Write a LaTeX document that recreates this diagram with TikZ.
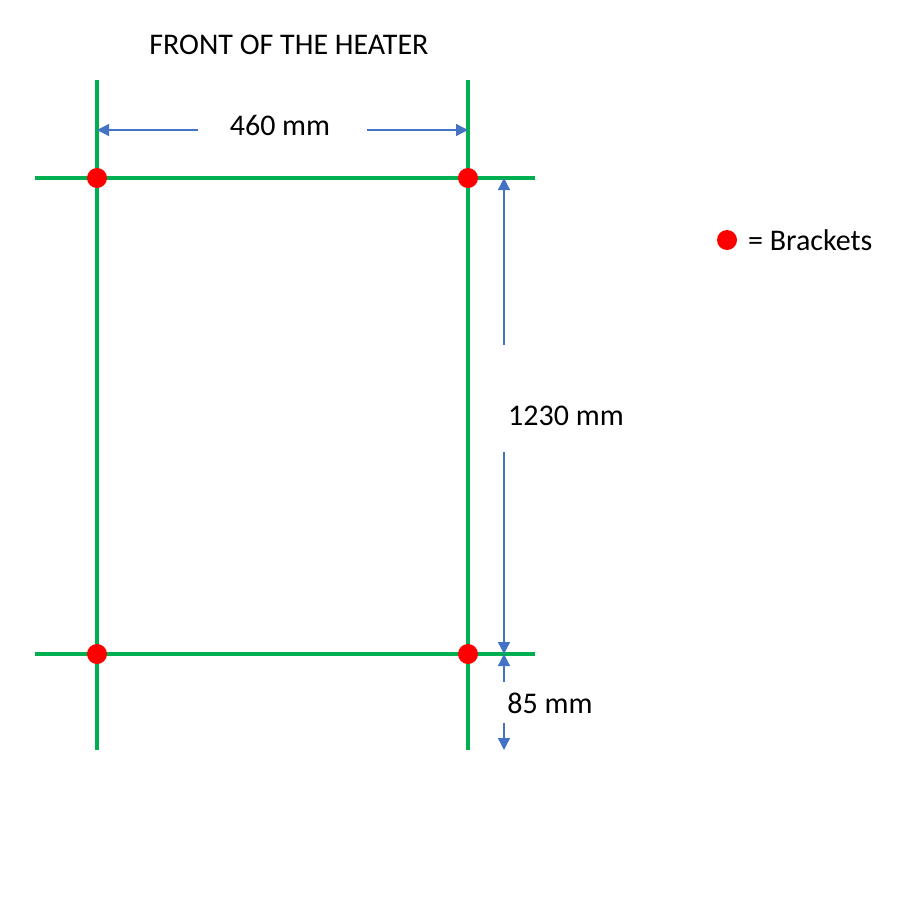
\documentclass[tikz,border=0pt]{standalone}
\usepackage{fontspec}
\setmainfont{Carlito}
\usetikzlibrary{arrows.meta}
\definecolor{gline}{HTML}{00B050}
\definecolor{dimblue}{HTML}{4472C4}
\definecolor{bred}{HTML}{FF0000}
\begin{document}
\begin{tikzpicture}[x=1pt,y=-1pt,
  frame/.style={draw=gline,line width=4pt},
  dimline/.style={draw=dimblue,line width=1.3pt,-{Triangle[length=12pt,width=12pt]}},
  bracket/.style={circle,fill=bred,inner sep=0pt,minimum size=20pt},
  lbl/.style={font=\fontsize{30}{33}\selectfont,inner sep=0pt,text=black}]
\useasboundingbox (0,0) rectangle (900,900);
% frame coordinates
\coordinate (lt) at (97,80);
\coordinate (lb) at (97,750);
\coordinate (rt) at (468,80);
\coordinate (rb) at (468,750);
\coordinate (tl) at (35,178);
\coordinate (tr) at (535,178);
\coordinate (bl) at (35,654);
\coordinate (br) at (535,654);
\draw[frame] (lt) -- (lb);
\draw[frame] (rt) -- (rb);
\draw[frame] (tl) -- (tr);
\draw[frame] (bl) -- (br);
% brackets
\node[bracket] (b1) at (97,178) {};
\node[bracket] (b2) at (468,178) {};
\node[bracket] (b3) at (97,654) {};
\node[bracket] (b4) at (468,654) {};
% title
\node[lbl] (title) at (289,45) {FRONT OF THE HEATER};
% 460 mm
\node[lbl] (w) at (280,125) {460 mm};
\coordinate (wl0) at (198,130);
\coordinate (wl1) at (97,130);
\coordinate (wr0) at (367,130);
\coordinate (wr1) at (468,130);
\draw[dimline] (wl0) -- (wl1);
\draw[dimline] (wr0) -- (wr1);
% 1230 mm
\node[lbl] (h) at (566,416) {1230 mm};
\coordinate (ht0) at (504,345);
\coordinate (ht1) at (504,178);
\coordinate (hb0) at (504,452);
\coordinate (hb1) at (504,654);
\draw[dimline] (ht0) -- (ht1);
\draw[dimline] (hb0) -- (hb1);
% 85 mm
\node[lbl] (s) at (550,703) {85 mm};
\coordinate (st0) at (504,682);
\coordinate (st1) at (504,654);
\coordinate (sb0) at (504,723);
\coordinate (sb1) at (504,750);
\draw[dimline] (st0) -- (st1);
\draw[dimline] (sb0) -- (sb1);
% legend
\node[bracket] (leg) at (727,240) {};
\node[lbl,anchor=west] (legtxt) at (748,240) {= Brackets};
\end{tikzpicture}
\end{document}
